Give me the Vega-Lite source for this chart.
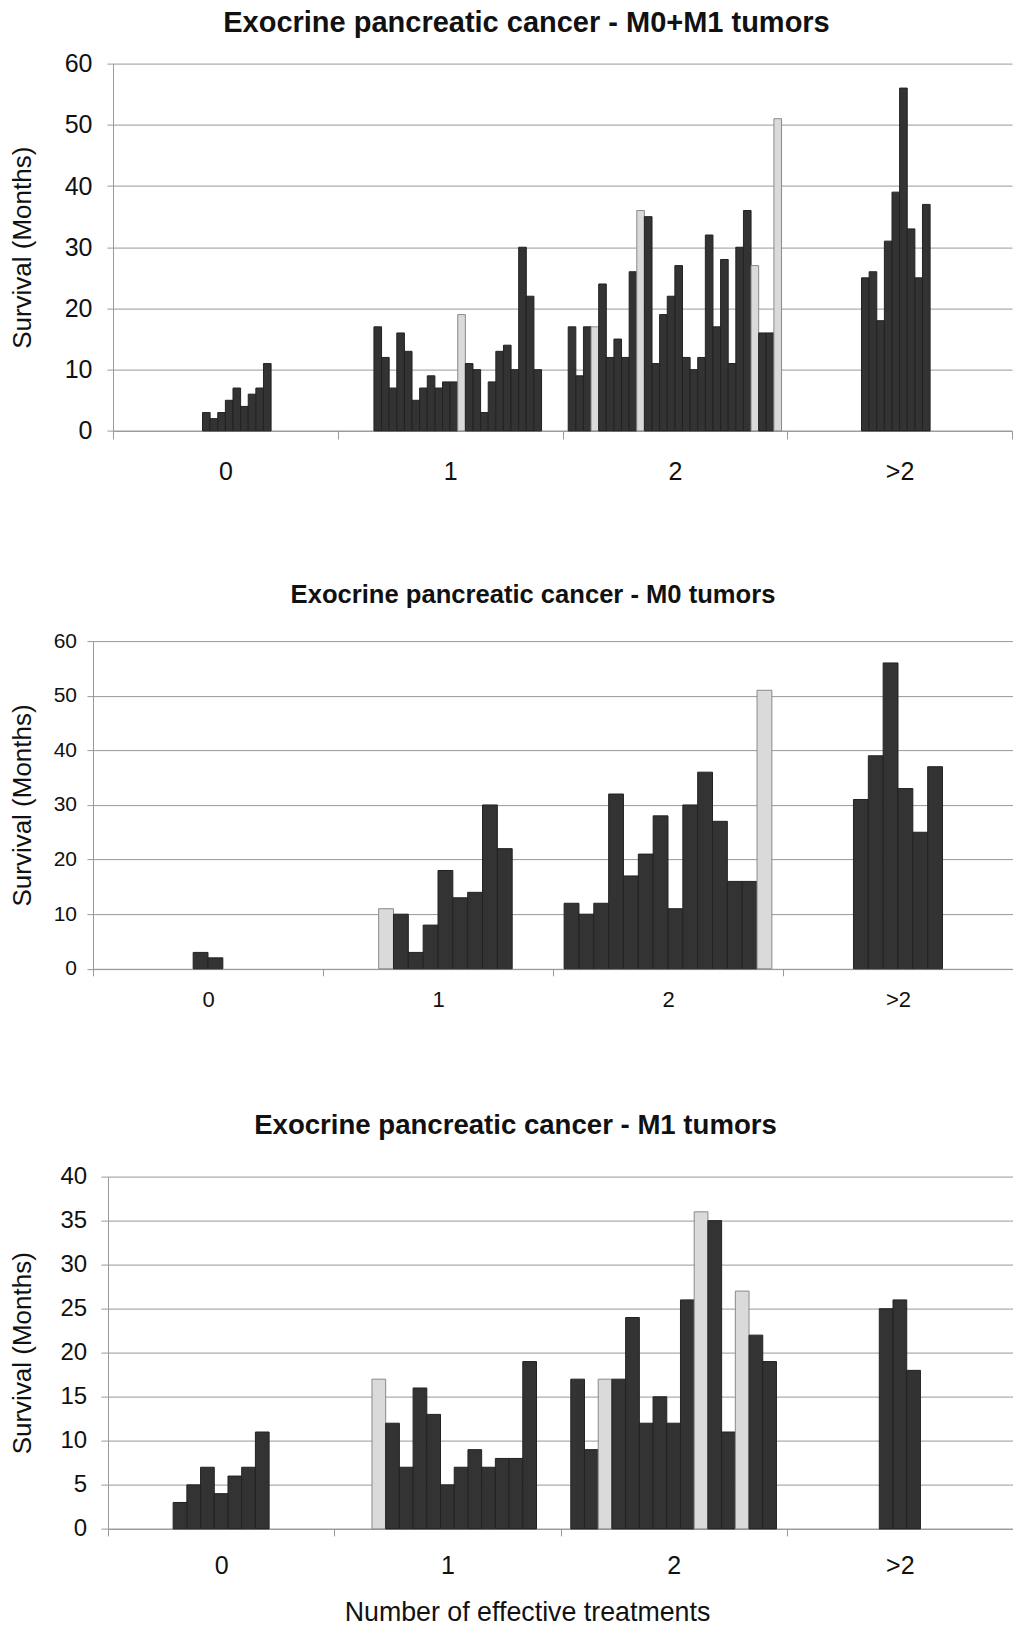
{
  "$schema": "https://vega.github.io/schema/vega-lite/v6.json",
  "background": "white",
  "padding": {"left": 8, "top": 8.6, "right": 0, "bottom": 0},
  "config": {
    "view": {"stroke": null},
    "font": "Liberation Sans",
    "axis": {"domainColor": "#999999", "tickColor": "#999999", "gridColor": "#999999", "labelColor": "#111111", "titleColor": "#111111", "labelFont": "Liberation Sans", "titleFont": "Liberation Sans", "titleFontWeight": "normal"},
    "title": {"font": "Liberation Sans", "fontWeight": "bold", "color": "#111111"}
  },
  "datasets": {
    "a": [
      {"cat": "0", "slot": 11, "v": 3, "t": "d"}, {"cat": "0", "slot": 12, "v": 2, "t": "d"}, {"cat": "0", "slot": 13, "v": 3, "t": "d"}, {"cat": "0", "slot": 14, "v": 5, "t": "d"}, {"cat": "0", "slot": 15, "v": 7, "t": "d"}, {"cat": "0", "slot": 16, "v": 4, "t": "d"}, {"cat": "0", "slot": 17, "v": 6, "t": "d"}, {"cat": "0", "slot": 18, "v": 7, "t": "d"}, {"cat": "0", "slot": 19, "v": 11, "t": "d"},
      {"cat": "1", "slot": 4, "v": 17, "t": "d"}, {"cat": "1", "slot": 5, "v": 12, "t": "d"}, {"cat": "1", "slot": 6, "v": 7, "t": "d"}, {"cat": "1", "slot": 7, "v": 16, "t": "d"}, {"cat": "1", "slot": 8, "v": 13, "t": "d"}, {"cat": "1", "slot": 9, "v": 5, "t": "d"}, {"cat": "1", "slot": 10, "v": 7, "t": "d"}, {"cat": "1", "slot": 11, "v": 9, "t": "d"}, {"cat": "1", "slot": 12, "v": 7, "t": "d"}, {"cat": "1", "slot": 13, "v": 8, "t": "d"}, {"cat": "1", "slot": 14, "v": 8, "t": "d"}, {"cat": "1", "slot": 15, "v": 19, "t": "l"}, {"cat": "1", "slot": 16, "v": 11, "t": "d"}, {"cat": "1", "slot": 17, "v": 10, "t": "d"}, {"cat": "1", "slot": 18, "v": 3, "t": "d"}, {"cat": "1", "slot": 19, "v": 8, "t": "d"}, {"cat": "1", "slot": 20, "v": 13, "t": "d"}, {"cat": "1", "slot": 21, "v": 14, "t": "d"}, {"cat": "1", "slot": 22, "v": 10, "t": "d"}, {"cat": "1", "slot": 23, "v": 30, "t": "d"}, {"cat": "1", "slot": 24, "v": 22, "t": "d"}, {"cat": "1", "slot": 25, "v": 10, "t": "d"},
      {"cat": "2", "slot": 0, "v": 17, "t": "d"}, {"cat": "2", "slot": 1, "v": 9, "t": "d"}, {"cat": "2", "slot": 2, "v": 17, "t": "d"}, {"cat": "2", "slot": 3, "v": 17, "t": "l"}, {"cat": "2", "slot": 4, "v": 24, "t": "d"}, {"cat": "2", "slot": 5, "v": 12, "t": "d"}, {"cat": "2", "slot": 6, "v": 15, "t": "d"}, {"cat": "2", "slot": 7, "v": 12, "t": "d"}, {"cat": "2", "slot": 8, "v": 26, "t": "d"}, {"cat": "2", "slot": 9, "v": 36, "t": "l"}, {"cat": "2", "slot": 10, "v": 35, "t": "d"}, {"cat": "2", "slot": 11, "v": 11, "t": "d"}, {"cat": "2", "slot": 12, "v": 19, "t": "d"}, {"cat": "2", "slot": 13, "v": 22, "t": "d"}, {"cat": "2", "slot": 14, "v": 27, "t": "d"}, {"cat": "2", "slot": 15, "v": 12, "t": "d"}, {"cat": "2", "slot": 16, "v": 10, "t": "d"}, {"cat": "2", "slot": 17, "v": 12, "t": "d"}, {"cat": "2", "slot": 18, "v": 32, "t": "d"}, {"cat": "2", "slot": 19, "v": 17, "t": "d"}, {"cat": "2", "slot": 20, "v": 28, "t": "d"}, {"cat": "2", "slot": 21, "v": 11, "t": "d"}, {"cat": "2", "slot": 22, "v": 30, "t": "d"}, {"cat": "2", "slot": 23, "v": 36, "t": "d"}, {"cat": "2", "slot": 24, "v": 27, "t": "l"}, {"cat": "2", "slot": 25, "v": 16, "t": "d"}, {"cat": "2", "slot": 26, "v": 16, "t": "d"}, {"cat": "2", "slot": 27, "v": 51, "t": "l"},
      {"cat": ">2", "slot": 9, "v": 25, "t": "d"}, {"cat": ">2", "slot": 10, "v": 26, "t": "d"}, {"cat": ">2", "slot": 11, "v": 18, "t": "d"}, {"cat": ">2", "slot": 12, "v": 31, "t": "d"}, {"cat": ">2", "slot": 13, "v": 39, "t": "d"}, {"cat": ">2", "slot": 14, "v": 56, "t": "d"}, {"cat": ">2", "slot": 15, "v": 33, "t": "d"}, {"cat": ">2", "slot": 16, "v": 25, "t": "d"}, {"cat": ">2", "slot": 17, "v": 37, "t": "d"}
    ],
    "b": [
      {"cat": "0", "slot": 6, "v": 3, "t": "d"}, {"cat": "0", "slot": 7, "v": 2, "t": "d"},
      {"cat": "1", "slot": 3, "v": 11, "t": "l"}, {"cat": "1", "slot": 4, "v": 10, "t": "d"}, {"cat": "1", "slot": 5, "v": 3, "t": "d"}, {"cat": "1", "slot": 6, "v": 8, "t": "d"}, {"cat": "1", "slot": 7, "v": 18, "t": "d"}, {"cat": "1", "slot": 8, "v": 13, "t": "d"}, {"cat": "1", "slot": 9, "v": 14, "t": "d"}, {"cat": "1", "slot": 10, "v": 30, "t": "d"}, {"cat": "1", "slot": 11, "v": 22, "t": "d"},
      {"cat": "2", "slot": 0, "v": 12, "t": "d"}, {"cat": "2", "slot": 1, "v": 10, "t": "d"}, {"cat": "2", "slot": 2, "v": 12, "t": "d"}, {"cat": "2", "slot": 3, "v": 32, "t": "d"}, {"cat": "2", "slot": 4, "v": 17, "t": "d"}, {"cat": "2", "slot": 5, "v": 21, "t": "d"}, {"cat": "2", "slot": 6, "v": 28, "t": "d"}, {"cat": "2", "slot": 7, "v": 11, "t": "d"}, {"cat": "2", "slot": 8, "v": 30, "t": "d"}, {"cat": "2", "slot": 9, "v": 36, "t": "d"}, {"cat": "2", "slot": 10, "v": 27, "t": "d"}, {"cat": "2", "slot": 11, "v": 16, "t": "d"}, {"cat": "2", "slot": 12, "v": 16, "t": "d"}, {"cat": "2", "slot": 13, "v": 51, "t": "l"},
      {"cat": ">2", "slot": 4, "v": 31, "t": "d"}, {"cat": ">2", "slot": 5, "v": 39, "t": "d"}, {"cat": ">2", "slot": 6, "v": 56, "t": "d"}, {"cat": ">2", "slot": 7, "v": 33, "t": "d"}, {"cat": ">2", "slot": 8, "v": 25, "t": "d"}, {"cat": ">2", "slot": 9, "v": 37, "t": "d"}
    ],
    "c": [
      {"cat": "0", "slot": 4, "v": 3, "t": "d"}, {"cat": "0", "slot": 5, "v": 5, "t": "d"}, {"cat": "0", "slot": 6, "v": 7, "t": "d"}, {"cat": "0", "slot": 7, "v": 4, "t": "d"}, {"cat": "0", "slot": 8, "v": 6, "t": "d"}, {"cat": "0", "slot": 9, "v": 7, "t": "d"}, {"cat": "0", "slot": 10, "v": 11, "t": "d"},
      {"cat": "1", "slot": 2, "v": 17, "t": "l"}, {"cat": "1", "slot": 3, "v": 12, "t": "d"}, {"cat": "1", "slot": 4, "v": 7, "t": "d"}, {"cat": "1", "slot": 5, "v": 16, "t": "d"}, {"cat": "1", "slot": 6, "v": 13, "t": "d"}, {"cat": "1", "slot": 7, "v": 5, "t": "d"}, {"cat": "1", "slot": 8, "v": 7, "t": "d"}, {"cat": "1", "slot": 9, "v": 9, "t": "d"}, {"cat": "1", "slot": 10, "v": 7, "t": "d"}, {"cat": "1", "slot": 11, "v": 8, "t": "d"}, {"cat": "1", "slot": 12, "v": 8, "t": "d"}, {"cat": "1", "slot": 13, "v": 19, "t": "d"},
      {"cat": "2", "slot": 0, "v": 17, "t": "d"}, {"cat": "2", "slot": 1, "v": 9, "t": "d"}, {"cat": "2", "slot": 2, "v": 17, "t": "l"}, {"cat": "2", "slot": 3, "v": 17, "t": "d"}, {"cat": "2", "slot": 4, "v": 24, "t": "d"}, {"cat": "2", "slot": 5, "v": 12, "t": "d"}, {"cat": "2", "slot": 6, "v": 15, "t": "d"}, {"cat": "2", "slot": 7, "v": 12, "t": "d"}, {"cat": "2", "slot": 8, "v": 26, "t": "d"}, {"cat": "2", "slot": 9, "v": 36, "t": "l"}, {"cat": "2", "slot": 10, "v": 35, "t": "d"}, {"cat": "2", "slot": 11, "v": 11, "t": "d"}, {"cat": "2", "slot": 12, "v": 27, "t": "l"}, {"cat": "2", "slot": 13, "v": 22, "t": "d"}, {"cat": "2", "slot": 14, "v": 19, "t": "d"},
      {"cat": ">2", "slot": 6, "v": 25, "t": "d"}, {"cat": ">2", "slot": 7, "v": 26, "t": "d"}, {"cat": ">2", "slot": 8, "v": 18, "t": "d"}
    ]
  },
  "spacing": 97.5,
  "resolve": {"scale": {"x": "independent", "xOffset": "independent", "y": "independent"}},
  "vconcat": [
    {
      "spacing": 0,
      "hconcat": [
        {"width": 1, "height": 1, "data": {"values": []}, "mark": {"type": "text"}, "encoding": {}},
        {
          "data": {"name": "a"},
          "width": 899,
          "height": 367.3,
          "title": {"text": "Exocrine pancreatic cancer - M0+M1 tumors", "fontSize": 29, "anchor": "middle", "frame": "group", "baseline": "alphabetic", "offset": -9.8, "dx": -36},
          "mark": {"type": "bar", "strokeWidth": 1},
          "encoding": {
            "x": {"field": "cat", "type": "nominal", "sort": ["0", "1", "2", ">2"], "scale": {"domain": ["0", "1", "2", ">2"], "paddingInner": 0, "paddingOuter": 0}, "axis": {"title": null, "labelAngle": 0, "tickBand": "extent", "tickSize": 8, "labelPadding": 20.3, "labelFontSize": 25, "grid": false}},
            "xOffset": {"field": "slot", "type": "ordinal", "scale": {"domain": [0, 1, 2, 3, 4, 5, 6, 7, 8, 9, 10, 11, 12, 13, 14, 15, 16, 17, 18, 19, 20, 21, 22, 23, 24, 25, 26, 27], "paddingInner": 0, "paddingOuter": 0.75}},
            "y": {"field": "v", "type": "quantitative", "scale": {"domain": [0, 60], "nice": false}, "axis": {"values": [0, 10, 20, 30, 40, 50, 60], "title": "Survival (Months)", "titleFontSize": 26, "titlePadding": 28.9, "labelFontSize": 25, "labelPadding": 15, "tickSize": 6, "grid": true}},
            "fill": {"field": "t", "type": "nominal", "scale": {"domain": ["d", "l"], "range": ["#333333", "#dadada"]}, "legend": null},
            "stroke": {"field": "t", "type": "nominal", "scale": {"domain": ["d", "l"], "range": ["#222222", "#8a8a8a"]}, "legend": null}
          }
        }
      ]
    },
    {
      "spacing": 0,
      "hconcat": [
        {"width": 1, "height": 1, "data": {"values": []}, "mark": {"type": "text"}, "encoding": {}},
        {
          "data": {"name": "b"},
          "width": 920,
          "height": 327.7,
          "title": {"text": "Exocrine pancreatic cancer - M0 tumors", "fontSize": 25.6, "anchor": "middle", "frame": "group", "baseline": "alphabetic", "offset": 1.9, "dx": -20},
          "mark": {"type": "bar", "strokeWidth": 1},
          "encoding": {
            "x": {"field": "cat", "type": "nominal", "sort": ["0", "1", "2", ">2"], "scale": {"domain": ["0", "1", "2", ">2"], "paddingInner": 0, "paddingOuter": 0}, "axis": {"title": null, "labelAngle": 0, "tickBand": "extent", "tickSize": 7, "labelPadding": 14.2, "labelFontSize": 22, "minExtent": 45.2, "grid": false}},
            "xOffset": {"field": "slot", "type": "ordinal", "scale": {"domain": [0, 1, 2, 3, 4, 5, 6, 7, 8, 9, 10, 11, 12, 13], "paddingInner": 0, "paddingOuter": 0.75}},
            "y": {"field": "v", "type": "quantitative", "scale": {"domain": [0, 60], "nice": false}, "axis": {"values": [0, 10, 20, 30, 40, 50, 60], "title": "Survival (Months)", "titleFontSize": 26, "titlePadding": 17.6, "labelFontSize": 21, "labelPadding": 10.5, "tickSize": 6, "grid": true}},
            "fill": {"field": "t", "type": "nominal", "scale": {"domain": ["d", "l"], "range": ["#333333", "#dadada"]}, "legend": null},
            "stroke": {"field": "t", "type": "nominal", "scale": {"domain": ["d", "l"], "range": ["#222222", "#8a8a8a"]}, "legend": null}
          }
        }
      ]
    },
    {
      "spacing": 0,
      "hconcat": [
        {"width": 1, "height": 1, "data": {"values": []}, "mark": {"type": "text"}, "encoding": {}},
        {
          "data": {"name": "c"},
          "width": 905,
          "height": 352.3,
          "title": {"text": "Exocrine pancreatic cancer - M1 tumors", "fontSize": 27.6, "anchor": "middle", "frame": "group", "baseline": "alphabetic", "offset": 2.8, "dx": -45},
          "mark": {"type": "bar", "strokeWidth": 1},
          "encoding": {
            "x": {"field": "cat", "type": "nominal", "sort": ["0", "1", "2", ">2"], "scale": {"domain": ["0", "1", "2", ">2"], "paddingInner": 0, "paddingOuter": 0}, "axis": {"title": "Number of effective treatments", "titleFontSize": 26.8, "titlePadding": 21, "titleX": 419, "titleAlign": "center", "labelAngle": 0, "tickBand": "extent", "tickSize": 7, "labelPadding": 18.1, "labelFontSize": 25, "grid": false}},
            "xOffset": {"field": "slot", "type": "ordinal", "scale": {"domain": [0, 1, 2, 3, 4, 5, 6, 7, 8, 9, 10, 11, 12, 13, 14], "paddingInner": 0, "paddingOuter": 0.75}},
            "y": {"field": "v", "type": "quantitative", "scale": {"domain": [0, 40], "nice": false}, "axis": {"values": [0, 5, 10, 15, 20, 25, 30, 35, 40], "title": "Survival (Months)", "titleFontSize": 26, "titlePadding": 24.4, "labelFontSize": 24, "labelPadding": 14.3, "tickSize": 7, "grid": true}},
            "fill": {"field": "t", "type": "nominal", "scale": {"domain": ["d", "l"], "range": ["#333333", "#dadada"]}, "legend": null},
            "stroke": {"field": "t", "type": "nominal", "scale": {"domain": ["d", "l"], "range": ["#222222", "#8a8a8a"]}, "legend": null}
          }
        }
      ]
    }
  ]
}
